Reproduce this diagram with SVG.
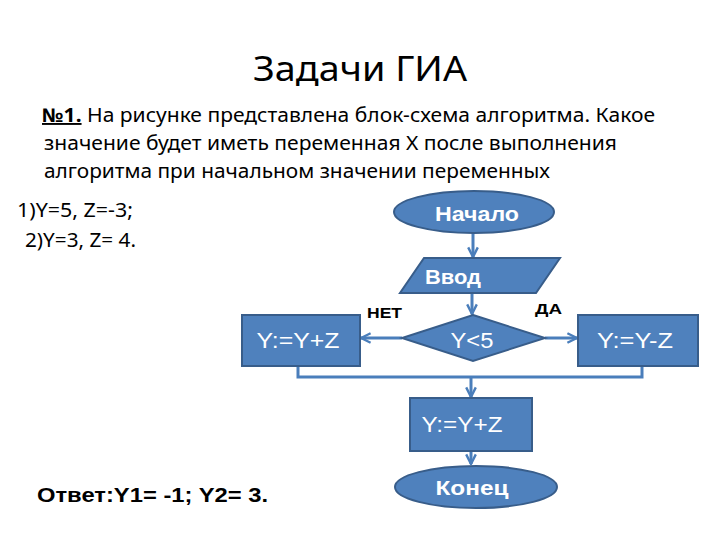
<svg xmlns="http://www.w3.org/2000/svg" width="720" height="540" viewBox="0 0 720 540">
<defs>
<style>
.body{font-family:"Noto Sans","Open Sans","DejaVu Sans",sans-serif;fill:#000;font-size:19px}
.title{font-family:"Noto Sans","Open Sans","DejaVu Sans",sans-serif;fill:#000;font-size:35px}
.shape{fill:#4f81bd;stroke:#385d8a;stroke-width:2}
.ntext{font-family:"Liberation Sans",Arial,sans-serif;fill:#fff;font-size:22px;text-anchor:middle}
.btext{font-family:"Liberation Sans",Arial,sans-serif;fill:#fff;font-size:20px;font-weight:bold;text-anchor:middle}
.lbl{font-family:"Liberation Sans",Arial,sans-serif;fill:#000;font-size:15px;font-weight:bold}
.conn{fill:none;stroke:#4a7ebb;stroke-width:3}
</style>
<marker id="arr" viewBox="0 0 10 10" refX="9" refY="5" markerWidth="4" markerHeight="4" orient="auto" markerUnits="strokeWidth">
<path d="M1,1 L9,5 L1,9" fill="none" stroke="#4a7ebb" stroke-width="2"/>
</marker>
</defs>
<rect width="720" height="540" fill="#fff"/>

<text class="title" x="253" y="81" textLength="214" lengthAdjust="spacingAndGlyphs">Задачи ГИА</text>
<text class="body" x="42" y="122" textLength="613" lengthAdjust="spacingAndGlyphs"><tspan font-weight="bold" text-decoration="underline">№1.</tspan> На рисунке представлена блок-схема алгоритма. Какое</text>
<text class="body" x="44" y="150" textLength="573" lengthAdjust="spacingAndGlyphs">значение будет иметь переменная X после выполнения</text>
<text class="body" x="44" y="178" textLength="506" lengthAdjust="spacingAndGlyphs">алгоритма при начальном значении переменных</text>
<text class="body" x="17" y="217" textLength="116" lengthAdjust="spacingAndGlyphs">1)Y=5, Z=-3;</text>
<text class="body" x="25" y="247" textLength="111" lengthAdjust="spacingAndGlyphs">2)Y=3, Z= 4.</text>

<g id="connectors">
<line class="conn" x1="473" y1="233" x2="473" y2="257" marker-end="url(#arr)"/>
<line class="conn" x1="472" y1="293" x2="472" y2="314" marker-end="url(#arr)"/>
<line class="conn" x1="402" y1="338" x2="361" y2="338" marker-end="url(#arr)"/>
<line class="conn" x1="545" y1="338" x2="577" y2="338" marker-end="url(#arr)"/>
<polyline class="conn" points="298,366 298,377 642,377 642,366"/>
<line class="conn" x1="471" y1="377" x2="471" y2="397" marker-end="url(#arr)"/>
<line class="conn" x1="471" y1="451" x2="471" y2="464" marker-end="url(#arr)"/>
</g>

<g id="start">
<ellipse class="shape" cx="474" cy="212" rx="80" ry="21"/>
<text class="btext" x="477" y="221" textLength="84" lengthAdjust="spacingAndGlyphs">Начало</text>
</g>
<g id="input">
<polygon class="shape" points="424,258 560,258 536,293 400,293"/>
<text class="btext" x="453" y="284" textLength="56" lengthAdjust="spacingAndGlyphs">Ввод</text>
</g>
<g id="decision">
<polygon class="shape" points="473,315 545,338 473,361 402,338"/>
<text class="ntext" x="472" y="348" textLength="43" lengthAdjust="spacingAndGlyphs">Y&lt;5</text>
</g>
<g id="no-branch">
<rect class="shape" x="242" y="315" width="118" height="51"/>
<text class="ntext" x="298" y="348" textLength="83" lengthAdjust="spacingAndGlyphs">Y:=Y+Z</text>
</g>
<g id="yes-branch">
<rect class="shape" x="578" y="315" width="120" height="51"/>
<text class="ntext" x="635" y="348" textLength="76" lengthAdjust="spacingAndGlyphs">Y:=Y-Z</text>
</g>
<g id="process">
<rect class="shape" x="410" y="398" width="122" height="53"/>
<text class="ntext" x="462" y="432" textLength="81" lengthAdjust="spacingAndGlyphs">Y:=Y+Z</text>
</g>
<g id="end">
<ellipse class="shape" cx="476" cy="487" rx="81" ry="21"/>
<text class="btext" x="472" y="495" textLength="73" lengthAdjust="spacingAndGlyphs">Конец</text>
</g>

<text class="lbl" x="367" y="318" textLength="35" lengthAdjust="spacingAndGlyphs">НЕТ</text>
<text class="lbl" x="535" y="314" textLength="27" lengthAdjust="spacingAndGlyphs">ДА</text>

<text x="37" y="502" font-family="Liberation Sans, Arial, sans-serif" font-weight="bold" font-size="21" fill="#000" textLength="231" lengthAdjust="spacingAndGlyphs">Ответ:Y1= -1; Y2= 3.</text>
</svg>
